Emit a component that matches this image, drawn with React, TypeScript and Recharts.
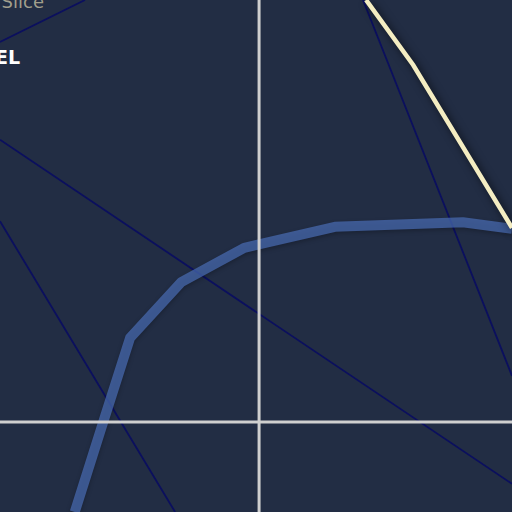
import React from "react";
import { LineChart, Line, XAxis, YAxis } from "recharts";

// plot space runs 0..10 on both axes
const blueTrend = [
  { x: 1.46, y: 0.0 },
  { x: 2.03, y: 1.8 },
  { x: 2.54, y: 3.4 },
  { x: 3.54, y: 4.49 },
  { x: 4.77, y: 5.16 },
  { x: 6.54, y: 5.57 },
  { x: 9.04, y: 5.66 },
  { x: 10.0, y: 5.53 },
];

const creamTrend = [
  { x: 7.15, y: 10.0 },
  { x: 8.07, y: 8.73 },
  { x: 10.0, y: 5.55 },
];

const navyA = [
  { x: 0, y: 9.18 },
  { x: 1.66, y: 10 },
];
const navyB = [
  { x: 0, y: 7.27 },
  { x: 10, y: 0.55 },
];
const navyC = [
  { x: 0, y: 5.68 },
  { x: 3.42, y: 0 },
];
const navyD = [
  { x: 7.09, y: 10 },
  { x: 10, y: 2.66 },
];

const crossX = 5.06;
const crossY = 1.76;
const crossV = [
  { x: crossX, y: 0 },
  { x: crossX, y: 10 },
];
const crossH = [
  { x: 0, y: crossY },
  { x: 10, y: crossY },
];

const navySeries = [navyA, navyB, navyC, navyD];

const App = () => {
  return (
    <div
      style={{
        position: "absolute",
        top: 0,
        left: 0,
        width: 512,
        height: 512,
        background: "#222d44",
        overflow: "hidden",
      }}
    >
      <style>{`
        .blue-trend { filter: drop-shadow(0px 2px 2px rgba(0,0,0,0.35)); }
        .cream-trend { filter: drop-shadow(3px 3px 4px rgba(0,0,0,0.7)); }
      `}</style>
      <LineChart width={512} height={512} margin={{ top: 0, right: 0, bottom: 0, left: 0 }}>
        <XAxis type="number" dataKey="x" domain={[0, 10]} hide allowDataOverflow />
        <YAxis type="number" dataKey="y" domain={[0, 10]} hide allowDataOverflow />
        {navySeries.map((d, i) => (
          <Line
            key={i}
            data={d}
            dataKey="y"
            type="linear"
            stroke="#0b0f5e"
            strokeWidth={1.8}
            dot={false}
            activeDot={false}
            isAnimationActive={false}
          />
        ))}
        <Line
          data={blueTrend}
          dataKey="y"
          type="linear"
          className="blue-trend"
          stroke="#4a6db6"
          strokeOpacity={0.7}
          strokeWidth={10}
          strokeLinejoin="round"
          dot={false}
          activeDot={false}
          isAnimationActive={false}
        />
        <Line
          data={crossV}
          dataKey="y"
          type="linear"
          stroke="#cfcfcf"
          strokeWidth={3}
          dot={false}
          activeDot={false}
          isAnimationActive={false}
        />
        <Line
          data={crossH}
          dataKey="y"
          type="linear"
          stroke="#cfcfcf"
          strokeWidth={3}
          dot={false}
          activeDot={false}
          isAnimationActive={false}
        />
        <Line
          data={creamTrend}
          dataKey="y"
          type="linear"
          className="cream-trend"
          stroke="#f4edc2"
          strokeWidth={4.5}
          dot={false}
          activeDot={false}
          isAnimationActive={false}
        />
      </LineChart>
      <svg
        width={512}
        height={512}
        style={{ position: "absolute", top: 0, left: 0, pointerEvents: "none" }}
      >
        <text
          x={44}
          y={7.5}
          textAnchor="end"
          fontFamily="DejaVu Sans"
          fontSize={18}
          fill="#a19f8c"
        >
          Slice
        </text>
        <text
          x={20}
          y={64}
          textAnchor="end"
          fontFamily="DejaVu Sans"
          fontWeight="bold"
          fontSize={19}
          fill="#ffffff"
        >
          EL
        </text>
      </svg>
    </div>
  );
};

export default App;
